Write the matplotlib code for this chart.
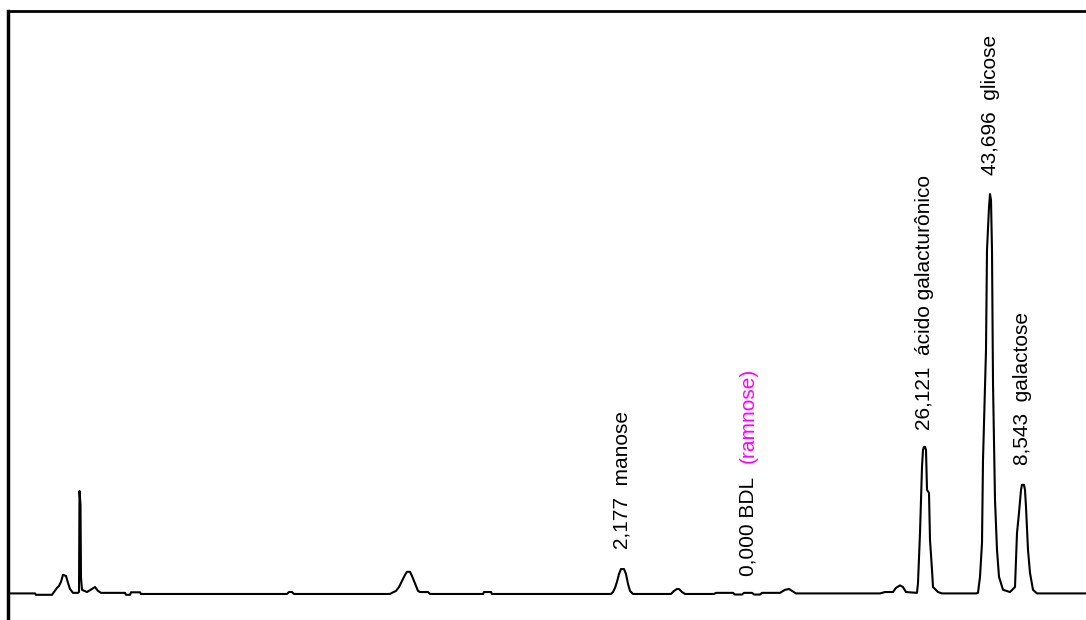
import matplotlib.pyplot as plt
from matplotlib.ticker import MultipleLocator

plt.rcParams['font.family'] = ['Liberation Sans', 'DejaVu Sans']

# chromatogram trace (retention, detector signal)
tempo = [0, 27, 28, 44, 46, 49, 51, 53, 55, 58, 60, 62, 65, 70, 71, 71.5, 72.5, 73, 74,
         79, 84, 87, 90, 93, 117, 118, 122, 123, 132, 133, 279, 281, 284, 286,
         382, 384, 388, 391, 394, 397, 399, 402, 404, 406, 408, 410, 412, 420, 422,
         475, 476, 483, 484, 603, 605, 607, 609, 611, 613, 616, 618, 620, 622, 625,
         663, 666, 669, 671, 674, 677, 706, 708, 725, 727, 734, 736, 744, 746, 752, 754,
         772, 777, 781, 784, 788, 872, 877, 885, 888, 892, 895, 898, 908,
         909, 910, 912, 914, 915, 916, 917, 918, 919, 921, 922, 924, 925, 930, 934, 968,
         970, 972, 974, 975, 978, 979, 981, 982, 983, 984, 985, 987, 989, 991, 995, 1002,
         1007, 1009, 1011, 1013, 1014, 1016, 1017, 1018, 1020, 1022, 1025, 1029, 1078]
sinal = [0, 0, -0.5, -0.5, 0.5, 2.0, 2.7, 4.2, 6.7, 6.3, 3.8, 1.6, 0.2, 0.2, 0.5, 37.0, 32.0, 5.6, 1.3,
         0.5, 1.6, 2.3, 0.9, 0.2, 0.2, -0.5, -0.5, 0.4, 0.4, -0.2, -0.2, 0.5, 0.5, -0.2,
         -0.2, 0.2, 0.9, 2.3, 4.5, 6.7, 7.8, 7.8, 6.3, 4.5, 2.7, 0.9, 0.5, 0.5, -0.2,
         -0.2, 0.5, 0.5, -0.2, -0.2, 0.5, 2.0, 4.2, 7.0, 8.8, 8.8, 7.0, 3.4, 0.9, -0.2,
         -0.2, 0.9, 1.6, 1.6, 0.5, -0.2, -0.2, 0.2, 0.2, -0.4, -0.4, 0.2, 0.2, -0.4, -0.4, 0.2,
         0.2, 1.3, 1.6, 0.9, 0, 0, 0.5, 0.5, 2.0, 2.9, 2.3, 0.5, 0.2,
         0.2, 3.8, 21.8, 45.7, 51.8, 52.9, 52.9, 51.8, 37.4, 36.3, 19.3, 8.5, 2.3, 0.5, 0, 0,
         0.2, 6.0, 18.2, 48.2, 87.9, 124.0, 139.5, 144.2, 142.0, 124.0, 76.0, 33.8, 15.7, 6.0, 1.3, 0.5,
         2.3, 21.8, 29.1, 37.4, 39.2, 39.2, 37.4, 31.2, 15.7, 7.4, 1.3, 0, 0]

# peak labels: position of label foot, text
rotulos_x = [614, 740, 916, 982, 1015]
rotulos_y = [16.1, 6.3, 59.0, 151.1, 46.4]
rotulos = ['2,177  manose', '0,000 BDL', '26,121  ácido galacturônico',
           '43,696  glicose', '8,543  galactose']
ausente_x, ausente_y, ausente = 740, 47.1, '(ramnose)'

fig = plt.figure(figsize=(10.86, 6.2), dpi=100)
ax = fig.add_axes([8 / 1086, 0, 1 - 8 / 1086, 1 - 10.5 / 620])

ax.plot(tempo, sinal, color='black', lw=1.5)

for x, y, t in zip(rotulos_x, rotulos_y, rotulos):
    ax.text(x, y, t, rotation=90, ha='center', va='bottom', fontsize=15, color='black')
ax.text(ausente_x, ausente_y, ausente, rotation=90, ha='center', va='bottom',
        fontsize=15, color='#ff00ff')

ax.set_xlim(0, 1078)
ax.set_ylim(-9.6, 210.5)
ax.yaxis.set_major_locator(MultipleLocator(10))
ax.set_xticks([])
ax.set_yticklabels([])
ax.tick_params(axis='y', direction='inout', length=3, width=0.8, color='white')
for s in ['right', 'bottom']:
    ax.spines[s].set_visible(False)
ax.spines['left'].set_linewidth(2.5)
ax.spines['top'].set_linewidth(2)

fig.savefig('out.png', dpi=100)
